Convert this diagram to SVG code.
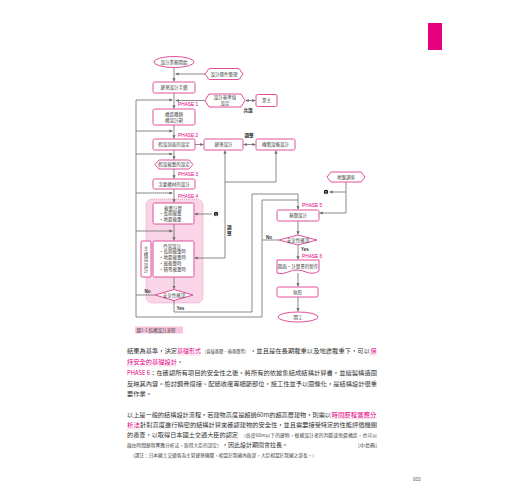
<svg xmlns="http://www.w3.org/2000/svg" width="520" height="500" viewBox="0 0 520 500">
<defs>
<marker id="a" viewBox="0 0 6 6" refX="6" refY="3" markerWidth="3.2" markerHeight="3.2" orient="auto-start-reverse" markerUnits="userSpaceOnUse"><path d="M0,0 L6,3 L0,6 z" fill="#6a6a6a"/></marker>
<style>
.box{fill:#fff;stroke:#E0509A;stroke-width:1}
.ln{fill:none;stroke:#747474;stroke-width:0.85}
.ar{fill:none;stroke:#747474;stroke-width:0.85;marker-end:url(#a)}
.ar2{fill:none;stroke:#747474;stroke-width:0.85;marker-end:url(#a);marker-start:url(#a)}
.t{font-family:"Noto Sans CJK TC","Noto Sans CJK SC",sans-serif;font-size:4.5px;fill:#444;text-anchor:middle}
.tl{font-family:"Noto Sans CJK TC","Noto Sans CJK SC",sans-serif;font-size:4.5px;fill:#444}
.b{font-family:"Noto Sans CJK TC",sans-serif;font-size:4.6px;fill:#333;font-weight:bold}
.ph{font-family:"Liberation Sans",sans-serif;font-size:4.8px;fill:#E4007F}
.yn{font-family:"Liberation Sans",sans-serif;font-size:4.6px;fill:#333;font-weight:bold}
.p{font-family:"Noto Sans CJK TC","Noto Sans CJK SC",sans-serif;font-size:6.1px;fill:#333}
.s{font-family:"Noto Sans CJK TC","Noto Sans CJK SC",sans-serif;font-size:4.2px;fill:#444}
.m{fill:#E4007F}
.u{stroke:#E57FB5;stroke-width:0.5;stroke-dasharray:0.8,0.8;fill:none}
</style>
</defs>
<rect x="428" y="23" width="14" height="27" fill="#E5007F"/>

<g id="region4"><rect x="146" y="199" width="57" height="104" rx="6" fill="#F9D5E7" stroke="#E57FB5" stroke-width="0.7" stroke-dasharray="1,1"/></g>

<g id="connectors">
<path class="ln" d="M136,317 V100"/>
<path class="ar" d="M136,100 H172.5"/>
<path class="ar" d="M136,131 H172.5"/>
<path class="ar" d="M136,154 H172.5"/>
<path class="ar" d="M136,193 H172.5"/>
<path class="ar" d="M136,231 H172.5"/>
<path class="ln" d="M155,295 H136"/>
<path class="ln" d="M136,317 H262 V200 H298"/>
<path class="ar" d="M174,300.5 V312 H252 V194 H298 V209.5"/>
<path class="ln" d="M279,240 H262"/>
<path class="ar" d="M174,67.5 V81.5"/>
<path class="ar" d="M174,93 V108.5"/>
<path class="ar" d="M174,125 V138.5"/>
<path class="ar" d="M174,150 V159.5"/>
<path class="ar" d="M174,169 V178.5"/>
<path class="ar" d="M174,189 V202.5"/>
<path class="ar" d="M174,224 V240.5"/>
<path class="ar" d="M174,277 V289"/>
<path class="ar" d="M205,74 H175.5"/>
<path class="ar" d="M205,100.5 H175.5"/>
<path class="ar2" d="M245.5,100.5 H255.5"/>
<path class="ar" d="M195,144.5 H203.5"/>
<path class="ar2" d="M243.5,144.5 H255.5"/>
<path class="ar" d="M212,214 H194.5"/>
<path class="ar" d="M225,258 H194.5"/>
<path class="ar" d="M225,258 V150.5"/>
<path class="ln" d="M276,182 H225"/>
<path class="ar" d="M276,182 V150.5"/>
<path class="ar" d="M346,182 V213 H319.5"/>
<path class="ar" d="M346,192 H329.5"/>
<path class="ar" d="M298,221 V234.5"/>
<path class="ar" d="M298,245 V259.5"/>
<path class="ar" d="M298,273 V286.5"/>
<path class="ar" d="M298,297 V311.5"/>
</g>

<g id="start"><ellipse class="box" cx="174" cy="62" rx="20" ry="5.5"/><text class="t" x="174" y="63.6">設計業務開始</text></g>
<g id="cond"><polygon class="box" points="205,74 209,68.5 239,68.5 243,74 239,79.5 209,79.5"/><text class="t" x="224" y="75.6">設計條件整理</text></g>
<g id="plan"><rect class="box" x="153" y="82" width="42" height="11" rx="1.5"/><text class="t" x="174" y="89.1">建築設計手續</text></g>
<g id="criteria"><polygon class="box" points="205,100.5 209,94 241,94 245,100.5 241,107 209,107"/><text class="t" x="225" y="99.4">設計基準值</text><text class="t" x="225" y="105">設定</text></g>
<g id="owner"><rect class="box" x="256" y="94.5" width="21" height="12" rx="1.5"/><text class="t" x="266.5" y="102.2">業主</text></g>
<text class="b" x="243.5" y="111.5">共識</text>
<text class="ph" x="178" y="106">PHASE 1</text>
<g id="type"><rect class="box" x="153" y="109" width="42" height="16" rx="1.5"/><text class="t" x="174" y="116">構造種類</text><text class="t" x="174" y="121.8">構架計劃</text></g>
<text class="ph" x="178" y="136.8">PHASE 2</text>
<g id="section"><rect class="box" x="153" y="139" width="42" height="11" rx="1.5"/><text class="t" x="174" y="146.1">假設剖面的設定</text></g>
<g id="arch"><rect class="box" x="204" y="139" width="39" height="11" rx="1.5"/><text class="t" x="223.5" y="146.1">建築設計</text></g>
<g id="mep"><rect class="box" x="256" y="139" width="39" height="11" rx="1.5"/><text class="t" x="275.5" y="146.1">機電設備設計</text></g>
<text class="b" x="244.5" y="137">調整</text>
<g id="load"><polygon class="box" points="155,164.5 159,160 189,160 193,164.5 189,169 159,169"/><text class="t" x="174" y="166.1">假設載重的設定</text></g>
<text class="ph" x="178" y="175.5">PHASE 3</text>
<g id="secondary"><rect class="box" x="153" y="179" width="42" height="10" rx="1.5"/><text class="t" x="174" y="185.6">次要構材的設計</text></g>
<text class="ph" x="178" y="198">PHASE 4</text>
<g id="loadcalc"><rect class="box" x="153" y="203" width="41" height="21" rx="1.5"/><text class="tl" x="164" y="209.5">載重計算</text><text class="tl" x="159" y="215.3">・長期載重</text><text class="tl" x="159" y="221">・地震載重</text></g>
<g id="c1"><circle cx="216" cy="214" r="2.2" fill="#111"/><text x="216" y="215.6" font-family="Liberation Sans,sans-serif" font-size="3.4" font-weight="bold" fill="#fff" text-anchor="middle">1</text></g>
<g id="frame"><rect class="box" x="153" y="241" width="41" height="36" rx="1.5"/><text class="tl" x="163" y="247.5">骨架設計</text><text class="tl" x="159" y="253.3">・長期載重時</text><text class="tl" x="159" y="259.1">・地震載重時</text><text class="tl" x="159" y="264.9">・風載重時</text><text class="tl" x="159" y="270.7">・積雪載重時</text></g>
<g id="mainframe"><rect class="box" x="141" y="241" width="10" height="36" rx="1"/><text class="t" x="146" y="250">主</text><text class="t" x="146" y="255.5">構</text><text class="t" x="146" y="261">架</text><text class="t" x="146" y="266.5">設</text><text class="t" x="146" y="272">計</text></g>
<text class="b" x="227" y="229">調</text><text class="b" x="227" y="234.5">整</text>
<g id="check4"><polygon class="box" points="155,295 174,289.5 193,295 174,300.5"/><text class="t" x="174" y="296.6">安全性確認</text></g>
<text class="yn" x="144.5" y="293.3">No</text>
<text class="yn" x="176.5" y="310">Yes</text>
<g id="soil"><polygon class="box" points="327,177 331,172 361,172 365,177 361,182 331,182"/><text class="t" x="346" y="178.6">地盤調查</text></g>
<g id="c1b"><circle cx="326" cy="192" r="2.2" fill="#111"/><text x="326" y="193.6" font-family="Liberation Sans,sans-serif" font-size="3.4" font-weight="bold" fill="#fff" text-anchor="middle">1</text></g>
<text class="ph" x="302" y="207">PHASE 5</text>
<g id="found"><rect class="box" x="277" y="210" width="42" height="11" rx="1.5"/><text class="t" x="298" y="217.1">基礎設計</text></g>
<g id="check5"><polygon class="box" points="279,240 298,235 317,240 298,245"/><text class="t" x="298" y="241.6">安全性確認</text></g>
<text class="yn" x="266" y="238.8">No</text>
<text class="yn" x="301" y="250.6">Yes</text>
<text class="ph" x="302" y="258.3">PHASE 6</text>
<g id="docs"><path class="box" d="M277,260 H319 V271 Q313,275 306,272 Q297,268 288,272 Q282,275 277,273 Z"/><text class="t" x="298" y="267.6">圖面・計算書的製作</text></g>
<g id="permit"><rect class="box" x="277" y="287" width="41" height="10" rx="1.5"/><text class="t" x="297.5" y="293.6">執照</text></g>
<g id="begin"><ellipse class="box" cx="298" cy="317" rx="20" ry="5"/><text class="t" x="298" y="318.6">開工</text></g>

<g id="caption"><rect x="135" y="326.5" width="48" height="7" fill="#F6C4DC"/><text class="tl" x="136.5" y="331.8" font-size="4.4">圖1-1 結構設計流程</text></g>

<g id="body">
<text class="p" x="127" y="353" textLength="50" lengthAdjust="spacingAndGlyphs">結果為基準，決定</text>
<text class="p m" x="177" y="353" textLength="24" lengthAdjust="spacingAndGlyphs">基礎形式</text>
<text class="s" x="202" y="352.5" textLength="47" lengthAdjust="spacingAndGlyphs">（直接基礎、樁基礎等）</text>
<text class="p" x="250" y="353" textLength="120" lengthAdjust="spacingAndGlyphs">，並且是在長期載重以及地震載重下，可以</text>
<text class="p m" x="370.5" y="353">保</text>
<path class="u" d="M177,355 H201 M370,355 H377"/>
<text class="p m" x="127" y="364" textLength="50" lengthAdjust="spacingAndGlyphs">持安全的基礎設計</text>
<text class="p" x="177" y="364">。</text>
<path class="u" d="M127,366 H177"/>
<text class="p m" x="127" y="375" font-family="Liberation Sans,sans-serif" textLength="23" lengthAdjust="spacingAndGlyphs">PHASE 6</text>
<text class="p" x="150" y="375" textLength="227" lengthAdjust="spacingAndGlyphs">：在確認所有項目的安全性之後，將所有的依據集結成結構計算書，並繪製構造圖</text>
<text class="p" x="127" y="386" textLength="250" lengthAdjust="spacingAndGlyphs">反映其內容。檢討鋼骨搭接、配筋收邊等細節部位，施工性並予以圖像化，是結構設計很重</text>
<text class="p" x="127" y="396" textLength="25" lengthAdjust="spacingAndGlyphs">要作業。</text>
<text class="p" x="127" y="416.5" textLength="204" lengthAdjust="spacingAndGlyphs">以上是一般的結構設計流程，若建物高度是超過60m的超高層建物，則需以</text>
<text class="p m" x="331.5" y="416.5" textLength="45" lengthAdjust="spacingAndGlyphs">時間歷程響應分</text>
<path class="u" d="M331.5,418.5 H377"/>
<text class="p m" x="127" y="427" textLength="13" lengthAdjust="spacingAndGlyphs">析法</text>
<path class="u" d="M127,429 H140"/>
<text class="p" x="140" y="427" textLength="237" lengthAdjust="spacingAndGlyphs">針對高度進行精密的結構計算來確認建物的安全性，並且需要接受特定的性能評價機關</text>
<text class="p" x="127" y="437" textLength="111" lengthAdjust="spacingAndGlyphs">的審查，以取得日本國土交通大臣的認定</text>
<path class="u" d="M226,439 H238"/>
<text class="s" x="241" y="436.5" textLength="136" lengthAdjust="spacingAndGlyphs">（高度60m以下的建物，根據設計者的判斷或免震構造，也可以</text>
<text class="s" x="127" y="446.5" textLength="95" lengthAdjust="spacingAndGlyphs">藉由時間歷程響應分析法，取得大臣的認定）</text>
<text class="p" x="222" y="447" textLength="66" lengthAdjust="spacingAndGlyphs">，因此設計期間會拉長。</text>
<text class="s" x="358" y="446.5" textLength="19" lengthAdjust="spacingAndGlyphs">[中島務]</text>
<text class="s" x="130" y="456.5" textLength="187" lengthAdjust="spacingAndGlyphs">（譯註：日本國土交通省為主管建築機關，相當於我國內政部，大臣相當於我國之部長。）</text>
<text x="413" y="481" font-family="Liberation Sans,sans-serif" font-size="4.6" fill="#555">003</text>
</g>
</svg>
